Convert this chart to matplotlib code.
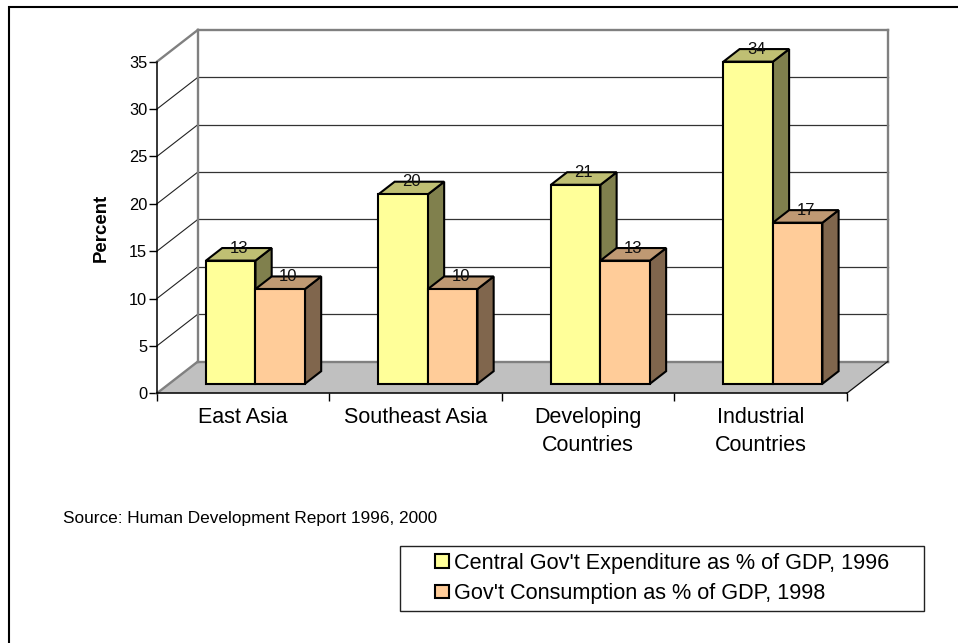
import matplotlib
matplotlib.use("Agg")
import matplotlib.pyplot as plt
from matplotlib.patches import Polygon, Rectangle, Patch
from matplotlib.legend_handler import HandlerPatch

plt.rcParams['font.family'] = ['Liberation Sans', 'DejaVu Sans']

categories = ["East Asia", "Southeast Asia", "Developing\nCountries", "Industrial\nCountries"]
expenditure = [13, 20, 21, 34]
consumption = [10, 10, 13, 17]
series_names = ["Central Gov't Expenditure as % of GDP, 1996",
                "Gov't Consumption as % of GDP, 1998"]
yticks = [0, 5, 10, 15, 20, 25, 30, 35]
source = "Source: Human Development Report 1996, 2000"
ylabel = "Percent"

W, H = 958, 643
fig = plt.figure(figsize=(W / 100, H / 100), dpi=100, facecolor="white")

def fx(px):
    return px / W

def fy(py):
    return 1 - py / H

# front plane of the 3-D box, from pixel measures
L, R, T, B = 156.9, 846.8, 61.7, 393.3
ax = fig.add_axes([fx(L), fy(B), fx(R) - fx(L), fy(T) - fy(B)])
ax.set_xlim(0, 4)
ax.set_ylim(0, 35)
ax.patch.set_visible(False)

# depth vector of the whole box in data units
DX = 41.0 / ((R - L) / 4)
DY = 31.8 / ((B - T) / 35)

def proj(x, y, d):
    return (x + d * DX, y + d * DY)

GREY = "#808080"
EDGE = "#000000"

def poly(points, fc, ec, lw=1.0, z=1):
    ax.add_patch(Polygon(points, closed=True, facecolor=fc, edgecolor=ec,
                         linewidth=lw, clip_on=False, zorder=z, joinstyle="miter"))

# floor
poly([proj(0, 0, 0), proj(4, 0, 0), proj(4, 0, 1), proj(0, 0, 1)], "#c0c0c0", "none", z=1)
# gridlines on side and back walls
for v in yticks[1:-1]:
    ax.plot(*zip(proj(0, v, 0), proj(0, v, 1)), color="#222222", lw=0.8, clip_on=False, zorder=1.5)
    ax.plot(*zip(proj(0, v, 1), proj(4, v, 1)), color="#333333", lw=0.9, clip_on=False, zorder=1.5)
# wall outlines
for a, b in [(proj(0, 35, 0), proj(0, 35, 1)), (proj(0, 35, 1), proj(4, 35, 1)),
             (proj(4, 35, 1), proj(4, 0, 1)), (proj(0, 35, 1), proj(0, 0, 1)),
             (proj(0, 0, 1), proj(4, 0, 1)), (proj(0, 0, 0), proj(0, 0, 1))]:
    ax.plot(*zip(a, b), color=GREY, lw=1.7, clip_on=False, zorder=1.6, solid_capstyle="projecting")
ax.plot(*zip(proj(4, 0, 0), proj(4, 0, 1)), color="#111111", lw=0.9, clip_on=False, zorder=1.6)

# bars
GAP = 0.2133
BW = 0.287
D0, D1 = 0.30, 0.695

def bar3d(x0, h, front, top, side, z):
    x1 = x0 + BW
    poly([proj(x1, 0, D0), proj(x1, 0, D1), proj(x1, h, D1), proj(x1, h, D0)], side, EDGE, 1.5, z)
    poly([proj(x0, h, D0), proj(x1, h, D0), proj(x1, h, D1), proj(x0, h, D1)], top, EDGE, 1.5, z)
    poly([proj(x0, 0, D0), proj(x1, 0, D0), proj(x1, h, D0), proj(x0, h, D0)], front, EDGE, 1.5, z + 0.1)
    lx, _ = proj(x0 + BW / 2, h, (D0 + D1) / 2)
    _, ly = proj(x0, h, D1)
    ax.text(lx, ly, f"{h}", ha="center", va="center", fontsize=12, color="#111111",
            zorder=10, clip_on=False)

YEL = ("#ffff99", "#bfbf73", "#80804d")
ORA = ("#ffcc99", "#bf9973", "#80664d")
for i, (e, c) in enumerate(zip(expenditure, consumption)):
    bar3d(i + GAP, e, *YEL, z=3 + i)
    bar3d(i + GAP + BW, c, *ORA, z=3.3 + i)

# axes
for s in ("top", "right"):
    ax.spines[s].set_visible(False)
for s in ("left", "bottom"):
    ax.spines[s].set_linewidth(1.1)
    ax.spines[s].set_color("black")
    ax.spines[s].set_zorder(2)
ax.set_yticks(yticks)
ax.tick_params(axis="y", labelsize=11.8, length=5.5, width=1, pad=1.5)
ax.set_xticks(range(5))
ax.set_xticklabels([])
ax.set_xticks([i + 0.5 for i in range(4)], minor=True)
ax.set_xticklabels(categories, minor=True, fontsize=15.5, linespacing=1.45)
ax.tick_params(axis="x", which="major", length=5.5, width=1)
ax.tick_params(axis="x", which="minor", length=0, pad=10)

fig.text(fx(101.5), fy(228), ylabel, rotation=90, ha="center", va="center",
         fontsize=13.4, fontweight="bold")
fig.text(fx(63), fy(519), source, ha="left", va="center", fontsize=12.4)

# legend
def swatch(legend, orig_handle, xdescent, ydescent, width, height, fontsize):
    return Rectangle((width - xdescent - 13.6 * 0.72, height / 2 - ydescent - 6.8 * 0.72),
                     13.6 * 0.72, 13.6 * 0.72)

handles = [Patch(facecolor=YEL[0], edgecolor="black", linewidth=1.5),
           Patch(facecolor=ORA[0], edgecolor="black", linewidth=1.5)]
leg = fig.legend(handles, series_names, loc="upper left",
                 bbox_to_anchor=(fx(400), fy(609), fx(924) - fx(400), fy(546) - fy(609)),
                 mode="expand", borderaxespad=0, fontsize=15.6, fancybox=False,
                 framealpha=1, edgecolor="#222222", handlelength=1.95, handletextpad=0.25,
                 labelspacing=0.45, borderpad=0.3,
                 handler_map={Patch: HandlerPatch(patch_func=swatch)})
leg.get_frame().set_linewidth(1.0)

# outer frame: only its top and left sides fall inside the picture
fig.add_artist(Rectangle((fx(9), fy(H + 20)), fx(W + 20) - fx(9), fy(7) - fy(H + 20),
                         transform=fig.transFigure, fill=False, edgecolor="black", linewidth=1.5))

fig.savefig("out.png", dpi=100)
